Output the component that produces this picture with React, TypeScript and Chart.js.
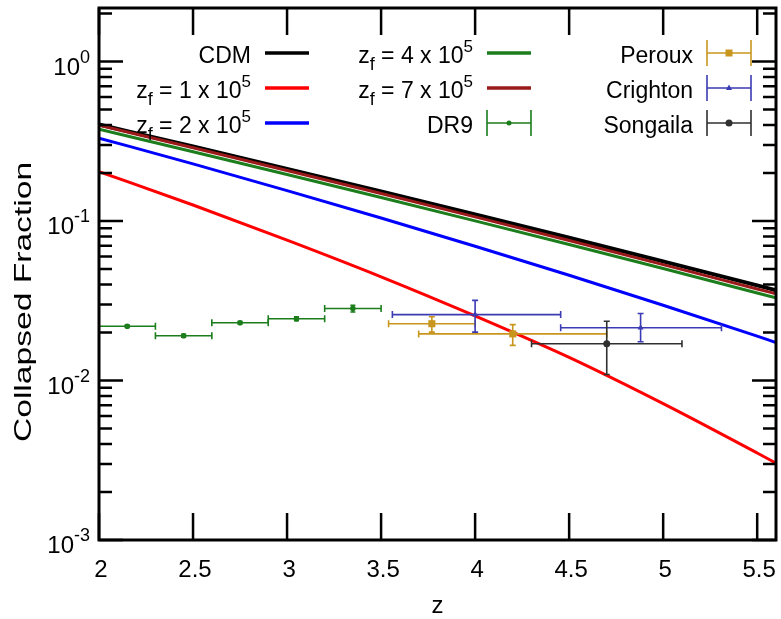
import React, { useEffect, useRef } from "react";
import { Chart, registerables } from "chart.js";
Chart.register(...registerables);

const FONT = '"Liberation Sans", Arial, Helvetica, sans-serif';

// Model curves (collapsed fraction vs redshift z)
const zGrid = [2.0, 2.5, 3.0, 3.5, 4.0, 4.5, 5.0, 5.5, 5.6];
const cdmVals = [0.4027, 0.2931, 0.2123, 0.1531, 0.1099, 0.0785, 0.0558, 0.0395, 0.0368];
const zf1Vals = [0.204, 0.126, 0.0759, 0.0447, 0.0254, 0.01396, 0.00716, 0.00351, 0.00303];
const zf2Vals = [0.331, 0.228, 0.155, 0.1045, 0.0695, 0.0457, 0.02965, 0.01897, 0.0173];
const zf4Vals = [0.3758, 0.272, 0.1959, 0.1404, 0.1002, 0.0712, 0.0504, 0.0354, 0.033];
const zf7Vals = [0.3981, 0.288, 0.2075, 0.1488, 0.1062, 0.0754, 0.0533, 0.0375, 0.035];

// Observations
const dr9Z = [2.15, 2.45, 2.75, 3.05, 3.35];
const dr9ZLo = [2.0, 2.3, 2.6, 2.9, 3.2];
const dr9ZHi = [2.3, 2.6, 2.9, 3.2, 3.5];
const dr9F = [0.0219, 0.0191, 0.023, 0.0244, 0.0283];
const dr9FLo = [0.0215, 0.0187, 0.0226, 0.0237, 0.0269];
const dr9FHi = [0.0223, 0.0195, 0.0234, 0.0251, 0.0296];

const perouxZ = [3.77, 4.2];
const perouxZLo = [3.54, 3.7];
const perouxZHi = [4.0, 4.7];
const perouxF = [0.0227, 0.0196];
const perouxFLo = [0.0201, 0.0166];
const perouxFHi = [0.0251, 0.0224];

const crightonZ = [4.0, 4.88];
const crightonZLo = [3.56, 4.455];
const crightonZHi = [4.455, 5.31];
const crightonF = [0.0259, 0.0214];
const crightonFLo = [0.0201, 0.0175];
const crightonFHi = [0.0318, 0.0263];

const songailaZ = [4.7];
const songailaZLo = [4.3];
const songailaZHi = [5.1];
const songailaF = [0.017];
const songailaFLo = [0.0109];
const songailaFHi = [0.0235];

const xTickValues = [2, 2.5, 3, 3.5, 4, 4.5, 5, 5.5];
const xTickLabels = ["2", "2.5", "3", "3.5", "4", "4.5", "5", "5.5"];
const yDecades = [-3, -2, -1, 0];
const yTickLabels = ["-3", "-2", "-1", "0"];

const X_MIN = 2;
const X_MAX = 5.6;
const Y_MIN = 0.001;
const Y_MAX = 2.165;

const C_BLACK = "#000000";
const C_RED = "#ff0000";
const C_BLUE = "#0000ff";
const C_GREEN = "#1b7d1b";
const C_MAROON = "#9a1a1a";
const C_DR9 = "#1b7d1b";
const C_PEROUX = "#c8961e";
const C_CRIGHTON = "#3b3bb4";
const C_SONGAILA = "#303030";

type Seg = { t: string; size: number; dy?: number };

function drawRich(ctx: CanvasRenderingContext2D, segs: Seg[], x: number, y: number, align: "left" | "right" | "center", sx = 1) {
  let w = 0;
  const widths: number[] = [];
  for (const s of segs) {
    ctx.font = `${s.size}px ${FONT}`;
    const m = ctx.measureText(s.t).width * sx;
    widths.push(m);
    w += m;
  }
  let cx = align === "left" ? x : align === "right" ? x - w : x - w / 2;
  ctx.textAlign = "left";
  ctx.textBaseline = "alphabetic";
  segs.forEach((s, i) => {
    ctx.font = `${s.size}px ${FONT}`;
    ctx.save();
    ctx.translate(cx, y + (s.dy || 0));
    ctx.scale(sx, 1);
    ctx.fillText(s.t, 0, 0);
    ctx.restore();
    cx += widths[i];
  });
}

const zfLabel = (n: string): Seg[] => [
  { t: "z", size: 23 },
  { t: "f", size: 18, dy: 7 },
  { t: ` = ${n} x 10`, size: 23 },
  { t: "5", size: 17, dy: -11 },
];

type ErrSeries = {
  z: number[]; zLo: number[]; zHi: number[]; f: number[]; fLo: number[]; fHi: number[];
  color: string; xCap: number; yCap: number;
};

const errSeries: ErrSeries[] = [
  { z: dr9Z, zLo: dr9ZLo, zHi: dr9ZHi, f: dr9F, fLo: dr9FLo, fHi: dr9FHi, color: C_DR9, xCap: 3.5, yCap: 2.5 },
  { z: perouxZ, zLo: perouxZLo, zHi: perouxZHi, f: perouxF, fLo: perouxFLo, fHi: perouxFHi, color: C_PEROUX, xCap: 3.5, yCap: 3 },
  { z: crightonZ, zLo: crightonZLo, zHi: crightonZHi, f: crightonF, fLo: crightonFLo, fHi: crightonFHi, color: C_CRIGHTON, xCap: 3.5, yCap: 3 },
  { z: songailaZ, zLo: songailaZLo, zHi: songailaZHi, f: songailaF, fLo: songailaFLo, fHi: songailaFHi, color: C_SONGAILA, xCap: 3.5, yCap: 3 },
];

const errorBarPlugin = {
  id: "errorBars",
  afterDatasetsDraw(chart: any) {
    const ctx: CanvasRenderingContext2D = chart.ctx;
    const xs = chart.scales.x;
    const ys = chart.scales.y;
    const a = chart.chartArea;
    ctx.save();
    ctx.beginPath();
    ctx.rect(a.left, a.top, a.right - a.left, a.bottom - a.top);
    ctx.clip();
    ctx.lineWidth = 1.6;
    for (const s of errSeries) {
      ctx.strokeStyle = s.color;
      for (let i = 0; i < s.z.length; i++) {
        const px = xs.getPixelForValue(s.z[i]);
        const py = ys.getPixelForValue(s.f[i]);
        const x0 = xs.getPixelForValue(s.zLo[i]);
        const x1 = xs.getPixelForValue(s.zHi[i]);
        const y0 = ys.getPixelForValue(s.fLo[i]);
        const y1 = ys.getPixelForValue(s.fHi[i]);
        ctx.beginPath();
        ctx.moveTo(x0, py); ctx.lineTo(x1, py);
        ctx.moveTo(x0, py - s.xCap); ctx.lineTo(x0, py + s.xCap);
        ctx.moveTo(x1, py - s.xCap); ctx.lineTo(x1, py + s.xCap);
        ctx.moveTo(px, y0); ctx.lineTo(px, y1);
        ctx.moveTo(px - s.yCap, y0); ctx.lineTo(px + s.yCap, y0);
        ctx.moveTo(px - s.yCap, y1); ctx.lineTo(px + s.yCap, y1);
        ctx.stroke();
      }
    }
    ctx.restore();
  },
};

function drawMarker(ctx: CanvasRenderingContext2D, style: string, x: number, y: number, color: string) {
  ctx.fillStyle = color;
  ctx.beginPath();
  if (style === "rect") {
    ctx.rect(x - 3.5, y - 3.5, 7, 7);
  } else if (style === "triangle") {
    ctx.moveTo(x, y - 3.5); ctx.lineTo(x + 3, y + 2); ctx.lineTo(x - 3, y + 2); ctx.closePath();
  } else {
    ctx.arc(x, y, style === "small" ? 2.5 : 3.5, 0, Math.PI * 2);
  }
  ctx.fill();
}

const framePlugin = {
  id: "frame",
  afterDraw(chart: any) {
    const ctx: CanvasRenderingContext2D = chart.ctx;
    const xs = chart.scales.x;
    const ys = chart.scales.y;
    const a = chart.chartArea;
    ctx.save();
    // ticks
    ctx.strokeStyle = "#000";
    ctx.lineWidth = 2.5;
    ctx.beginPath();
    for (const v of xTickValues) {
      const px = xs.getPixelForValue(v);
      ctx.moveTo(px, a.bottom); ctx.lineTo(px, a.bottom - 27);
      ctx.moveTo(px, a.top); ctx.lineTo(px, a.top + 27);
    }
    for (const d of yDecades) {
      for (let k = 1; k <= 9; k++) {
        const v = k * Math.pow(10, d);
        if (v > Y_MAX * 1.0001 || v < Y_MIN * 0.9999) continue;
        const py = ys.getPixelForValue(v);
        const len = k === 1 ? 24 : 13;
        ctx.moveTo(a.left, py); ctx.lineTo(a.left + len, py);
        ctx.moveTo(a.right, py); ctx.lineTo(a.right - len, py);
      }
    }
    ctx.stroke();
    // frame
    ctx.lineWidth = 3;
    ctx.strokeRect(a.left, a.top, a.right - a.left, a.bottom - a.top);

    ctx.fillStyle = "#000";
    // x tick labels
    xTickValues.forEach((v, i) => {
      const px = xs.getPixelForValue(v);
      drawRich(ctx, [{ t: xTickLabels[i], size: 24 }], px + 2, a.bottom + 37, "center");
    });
    // y tick labels
    yDecades.forEach((d, i) => {
      const py = ys.getPixelForValue(Math.pow(10, d));
      drawRich(ctx, [{ t: "10", size: 24 }, { t: yTickLabels[i], size: 18, dy: -12 }], 90, py + 13, "right");
    });
    // axis titles
    drawRich(ctx, [{ t: "z", size: 24 }], (a.left + a.right) / 2, 613, "center");
    ctx.save();
    ctx.translate(31, 302);
    ctx.rotate(-Math.PI / 2);
    drawRich(ctx, [{ t: "Collapsed Fraction", size: 24 }], 0, 0, "center", 1.4);
    ctx.restore();

    // legend
    const rows = [53, 88, 123];
    const cols = [251, 473, 693];
    const lineEntry = (col: number, row: number, label: Seg[], color: string, lw: number) => {
      ctx.fillStyle = "#000";
      drawRich(ctx, label, cols[col], rows[row] + 10, "right");
      ctx.strokeStyle = color;
      ctx.lineWidth = lw;
      ctx.beginPath();
      ctx.moveTo(cols[col] + 14, rows[row]);
      ctx.lineTo(cols[col] + 58, rows[row]);
      ctx.stroke();
    };
    const errEntry = (col: number, row: number, label: string, color: string, marker: string) => {
      ctx.fillStyle = "#000";
      drawRich(ctx, [{ t: label, size: 23 }], cols[col], rows[row] + 10, "right");
      const x0 = cols[col] + 14;
      const x1 = cols[col] + 58;
      const y = rows[row];
      ctx.strokeStyle = color;
      ctx.lineWidth = 1.6;
      ctx.beginPath();
      ctx.moveTo(x0, y); ctx.lineTo(x1, y);
      ctx.moveTo(x0, y - 13); ctx.lineTo(x0, y + 13);
      ctx.moveTo(x1, y - 13); ctx.lineTo(x1, y + 13);
      ctx.stroke();
      drawMarker(ctx, marker, (x0 + x1) / 2, y, color);
    };
    lineEntry(0, 0, [{ t: "CDM", size: 23 }], C_BLACK, 3.5);
    lineEntry(0, 1, zfLabel("1"), C_RED, 3.5);
    lineEntry(0, 2, zfLabel("2"), C_BLUE, 3.5);
    lineEntry(1, 0, zfLabel("4"), C_GREEN, 3.5);
    lineEntry(1, 1, zfLabel("7"), C_MAROON, 3.5);
    errEntry(1, 2, "DR9", C_DR9, "small");
    errEntry(2, 0, "Peroux", C_PEROUX, "rect");
    errEntry(2, 1, "Crighton", C_CRIGHTON, "triangle");
    errEntry(2, 2, "Songaila", C_SONGAILA, "circle");
    ctx.restore();
  },
};

const curve = (vals: number[], color: string, width: number, order: number) => ({
  type: "line" as const,
  data: zGrid.map((z, i) => ({ x: z, y: vals[i] })),
  borderColor: color,
  backgroundColor: color,
  borderWidth: width,
  pointRadius: 0,
  fill: false,
  cubicInterpolationMode: "monotone" as const,
  order,
});

const markers = (zs: number[], fs: number[], color: string, style: string, radius: number) => ({
  type: "scatter" as const,
  data: zs.map((z, i) => ({ x: z, y: fs[i] })),
  backgroundColor: color,
  borderColor: color,
  borderWidth: 0,
  pointStyle: style,
  pointRadius: radius,
  showLine: false,
  order: 0,
});

export default function App() {
  const ref = useRef<HTMLCanvasElement | null>(null);
  useEffect(() => {
    if (!ref.current) return;
    const chart = new Chart(ref.current, {
      type: "line",
      data: {
        datasets: [
          curve(cdmVals, C_BLACK, 4, 6),
          curve(zf1Vals, C_RED, 3, 5),
          curve(zf2Vals, C_BLUE, 3, 4),
          curve(zf4Vals, C_GREEN, 3, 3),
          curve(zf7Vals, C_MAROON, 3, 2),
          markers(dr9Z, dr9F, C_DR9, "circle", 2.8),
          markers(perouxZ, perouxF, C_PEROUX, "rect", 5),
          markers(crightonZ, crightonF, C_CRIGHTON, "triangle", 3.5),
          markers(songailaZ, songailaF, C_SONGAILA, "circle", 3.5),
        ] as any,
      },
      options: {
        animation: false,
        responsive: false,
        devicePixelRatio: 1,
        events: [],
        layout: { padding: { left: 99, right: 4, top: 8, bottom: 79 } },
        plugins: { legend: { display: false }, tooltip: { enabled: false } },
        scales: {
          x: { type: "linear", min: X_MIN, max: X_MAX, display: false },
          y: { type: "logarithmic", min: Y_MIN, max: Y_MAX, display: false },
        },
      },
      plugins: [errorBarPlugin, framePlugin],
    });
    return () => chart.destroy();
  }, []);
  return (
    <div style={{ position: "fixed", left: 0, top: 0, width: 781, height: 619, background: "#fff" }}>
      <canvas ref={ref} width={781} height={619} style={{ display: "block", width: 781, height: 619 }} />
    </div>
  );
}
